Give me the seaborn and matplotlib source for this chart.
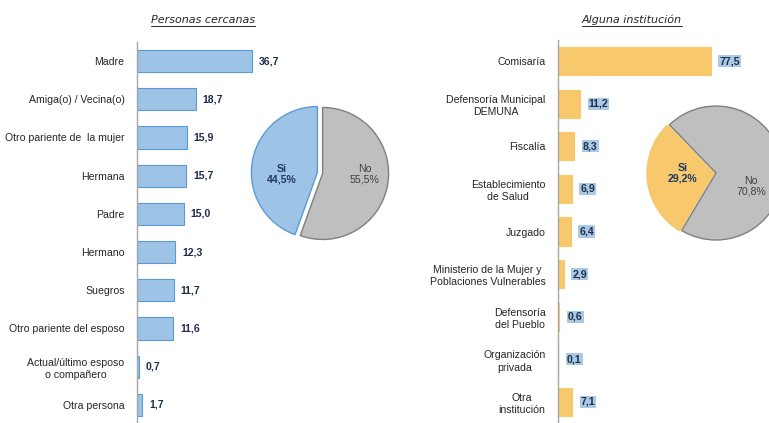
import matplotlib.pyplot as plt
import seaborn as sns
import pandas as pd
from matplotlib.lines import Line2D

# Datos
personas = ['Madre', 'Amiga(o) / Vecina(o)', 'Otro pariente de  la mujer', 'Hermana', 'Padre',
            'Hermano', 'Suegros', 'Otro pariente del esposo', 'Actual/último esposo\no compañero',
            'Otra persona']
personas_pct = [36.7, 18.7, 15.9, 15.7, 15.0, 12.3, 11.7, 11.6, 0.7, 1.7]
personas_pie = [44.5, 55.5]

instituciones = ['Comisaría', 'Defensoría Municipal\nDEMUNA', 'Fiscalía', 'Establecimiento\nde Salud',
                 'Juzgado', 'Ministerio de la Mujer y\nPoblaciones Vulnerables', 'Defensoría\ndel Pueblo',
                 'Organización\nprivada', 'Otra\ninstitución']
instituciones_pct = [77.5, 11.2, 8.3, 6.9, 6.4, 2.9, 0.6, 0.1, 7.1]
instituciones_pie = [29.2, 70.8]

pie_labels = ['Si', 'No']

W, H = 769, 423
FONT = ['Liberation Sans', 'DejaVu Sans']
FS = 7.6

sns.set_theme(style='white')
plt.rcParams['font.family'] = FONT

AZUL = '#9DC3E6'
AZUL_BORDE = '#5B9BD5'
NARANJA = '#F8C86C'
GRIS = '#BFBFBF'
GRIS_BORDE = '#7F7F7F'
TEXTO = '#262626'
VALOR = '#1F2D4D'


def px_axes(fig, x0, y0, x1, y1):
    return fig.add_axes([x0 / W, 1 - y1 / H, (x1 - x0) / W, (y1 - y0) / H])


def barras(ax, cats, vals, color, borde, ancho, xmax, resaltar):
    df = pd.DataFrame({'cat': cats, 'val': vals})
    sns.barplot(data=df, x='val', y='cat', orient='h', color=color, saturation=1,
                width=ancho, edgecolor=borde, linewidth=0.8, ax=ax)
    ax.set_xlim(0, xmax)
    ax.set_ylim(len(cats) - 0.5, -0.5)
    ax.set_xlabel('')
    ax.set_ylabel('')
    ax.set_xticks([])
    ax.set_facecolor('none')
    for s in ['top', 'right', 'bottom']:
        ax.spines[s].set_visible(False)
    ax.spines['left'].set_color('#A6A6A6')
    ax.spines['left'].set_linewidth(1)
    ax.tick_params(axis='y', length=0, pad=9, labelsize=FS, labelcolor=TEXTO)
    for lbl in ax.get_yticklabels():
        lbl.set_multialignment('center')
        lbl.set_linespacing(1.3)

    for i, v in enumerate(vals):
        txt = f'{v:.1f}'.replace('.', ',')
        kw = {}
        if resaltar:
            kw['bbox'] = dict(boxstyle='square,pad=0.1', facecolor='#A9C9E4', edgecolor='none')
        ax.text(v + xmax * 0.055, i, txt, va='center', ha='left', fontsize=FS,
                fontweight='bold', color=VALOR, **kw)


def torta(ax, vals, color, borde, inicio, explode, pos_si, pos_no):
    ax.pie(vals, colors=[color, GRIS], startangle=inicio, counterclock=True,
           explode=explode, wedgeprops=dict(linewidth=1.0))
    ax.patches[0].set_edgecolor(borde)
    ax.patches[1].set_edgecolor(GRIS_BORDE)
    ax.set_xlim(-1.25, 1.25)
    ax.set_ylim(-1.25, 1.25)
    ax.set_aspect('equal')
    ax.set_facecolor('none')
    ax.axis('off')
    txt_si = f'{pie_labels[0]}\n{vals[0]:.1f}%'.replace('.', ',')
    txt_no = f'{pie_labels[1]}\n{vals[1]:.1f}%'.replace('.', ',')
    ax.text(pos_si[0], pos_si[1], txt_si, ha='center', va='center', fontsize=FS,
            fontweight='bold', color='#1F3864', linespacing=1.1)
    ax.text(pos_no[0], pos_no[1], txt_no, ha='center', va='center', fontsize=FS,
            color='#404040', linespacing=1.1)


fig = plt.figure(figsize=(W / 100, H / 100), dpi=100, facecolor='white')

# Panel izquierdo
ax1 = px_axes(fig, 137, 42, 137 + 40 * 3.13, 424)
barras(ax1, personas, personas_pct, AZUL, AZUL_BORDE, 0.58, 40, False)

# Panel derecho
ax2 = px_axes(fig, 558, 40, 558 + 80 * 1.97, 423)
barras(ax2, instituciones, instituciones_pct, NARANJA, NARANJA, 0.66, 80, True)

# Tortas
R1 = 66
p1 = px_axes(fig, 320 - R1 * 1.25, 173 - R1 * 1.25, 320 + R1 * 1.25, 173 + R1 * 1.25)
torta(p1, personas_pie, AZUL, AZUL_BORDE, 90, [0.04, 0.04], (-0.58, -0.02), (0.68, -0.02))

R2 = 67
p2 = px_axes(fig, 716 - R2 * 1.25, 173 - R2 * 1.25, 716 + R2 * 1.25, 173 + R2 * 1.25)
torta(p2, instituciones_pie, NARANJA, NARANJA, 134, [0.03, 0.0], (-0.5, 0.0), (0.52, -0.2))

# Titulos subrayados
titulos = [
    fig.text(203 / W, 1 - 20 / H, 'Personas cercanas', ha='center', va='center',
             fontsize=8, style='italic', color=TEXTO, family=['DejaVu Sans']),
    fig.text(632 / W, 1 - 20 / H, 'Alguna institución', ha='center', va='center',
             fontsize=8, style='italic', color=TEXTO, family=['DejaVu Sans']),
]
fig.canvas.draw()
renderer = fig.canvas.get_renderer()
for t in titulos:
    bb = t.get_window_extent(renderer).transformed(fig.transFigure.inverted())
    y = bb.y0 - 1.0 / H
    fig.add_artist(Line2D([bb.x0, bb.x1], [y, y], transform=fig.transFigure,
                          color=TEXTO, linewidth=0.7))

fig.savefig('out.png', dpi=100, facecolor='white')
